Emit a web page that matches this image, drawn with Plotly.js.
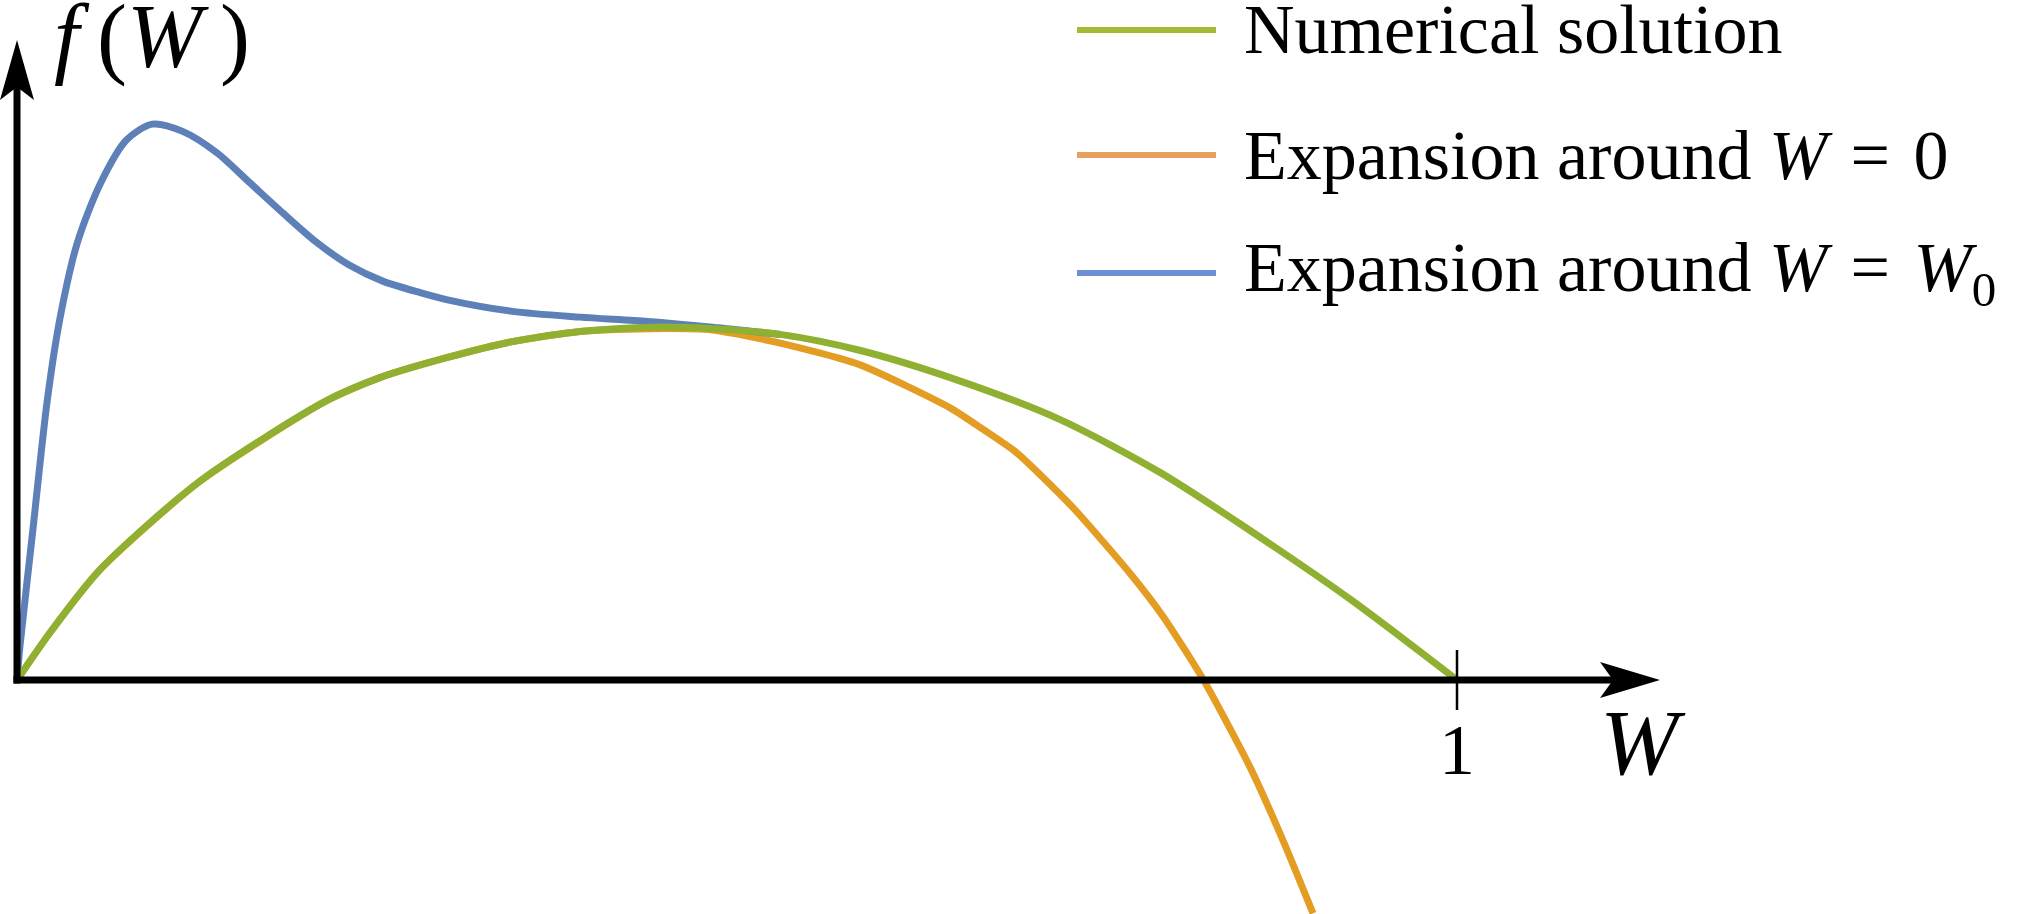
<!DOCTYPE html>
<html>
<head>
<meta charset="utf-8">
<script src="https://cdn.plot.ly/plotly-3.0.1.min.js"></script>
<style>
  html, body { margin: 0; padding: 0; background: #fff; }
  #chart { width: 2028px; height: 914px; }
</style>
</head>
<body>
<div id="chart"></div>
<script>
// values (W along x, f(W) in arbitrary units)
var wNumerical = [0, 0.023, 0.058, 0.127, 0.215, 0.252, 0.299, 0.344, 0.391, 0.442, 0.483, 0.530, 0.585, 0.648, 0.724, 0.794, 0.856, 0.926, 1];
var fNumerical = [0, 0.033, 0.077, 0.138, 0.194, 0.210, 0.224, 0.235, 0.242, 0.245, 0.244, 0.240, 0.229, 0.210, 0.181, 0.144, 0.104, 0.056, 0];

var wAroundZero = [0, 0.023, 0.058, 0.127, 0.215, 0.252, 0.299, 0.344, 0.391, 0.442, 0.483, 0.530, 0.585, 0.648, 0.671, 0.694, 0.733, 0.773, 0.796, 0.824, 0.856, 0.879, 0.900];
var fAroundZero = [0, 0.033, 0.077, 0.138, 0.194, 0.210, 0.224, 0.235, 0.242, 0.244, 0.243, 0.234, 0.219, 0.189, 0.174, 0.158, 0.120, 0.074, 0.044, 0, -0.060, -0.111, -0.162];

var wAroundW0 = [0, 0.002, 0.011, 0.021, 0.030, 0.042, 0.058, 0.076, 0.094, 0.115, 0.139, 0.162, 0.185, 0.208, 0.231, 0.254, 0.280, 0.299, 0.344, 0.391, 0.438, 0.483, 0.530];
var fAroundW0 = [0, 0.023, 0.104, 0.194, 0.252, 0.304, 0.345, 0.375, 0.386, 0.381, 0.366, 0.345, 0.324, 0.304, 0.288, 0.277, 0.269, 0.264, 0.256, 0.252, 0.249, 0.245, 0.240];

var eq = '\u2004=\u2004';
var seriesNames = ['Numerical solution', 'Expansion around <i>W</i>' + eq + '0', 'Expansion around <i>W</i>' + eq + '<i>W</i><sub>0</sub>'];
var seriesColors = ['#8FB031', '#E39D23', '#5C80B7'];
var legendColors = ['#A2BC36', '#E8A05F', '#6E8FD4'];

var tickVals = [1];
var tickText = ['1'];

var serif = 'Liberation Serif, Times New Roman, serif';
var px = 1 / 1440; // one pixel in data units (both axes share the scale)

var green = {
  x: wNumerical, y: fNumerical, mode: 'lines', name: seriesNames[0],
  line: { color: seriesColors[0], width: 7, shape: 'spline', smoothing: 0.8 }, hoverinfo: 'skip'
};
var orange = {
  x: wAroundZero, y: fAroundZero, mode: 'lines', name: seriesNames[1],
  line: { color: seriesColors[1], width: 7, shape: 'spline', smoothing: 0.6 }, hoverinfo: 'skip'
};
var blue = {
  x: wAroundW0, y: fAroundW0, mode: 'lines', name: seriesNames[2],
  line: { color: seriesColors[2], width: 7, shape: 'spline', smoothing: 0.8 }, hoverinfo: 'skip'
};

var xTip = 1643 * px;   // arrow tip of the W axis
var yTip = 640 * px;    // arrow tip of the f axis

var shapes = [
  // axes with arrow heads
  { type: 'line', xref: 'x', yref: 'y', x0: -3.5 * px, y0: 0, x1: xTip - 46 * px, y1: 0,
    line: { color: '#000', width: 7 } },
  { type: 'line', xref: 'x', yref: 'y', x0: 0, y0: -3.5 * px, x1: 0, y1: yTip - 46 * px,
    line: { color: '#000', width: 7 } },
  { type: 'path', xref: 'x', yref: 'y', xsizemode: 'pixel', ysizemode: 'pixel',
    xanchor: xTip, yanchor: 0, path: 'M0,0 L-60,18 L-47,0 L-60,-18 Z',
    fillcolor: '#000', line: { width: 0 } },
  { type: 'path', xref: 'x', yref: 'y', xsizemode: 'pixel', ysizemode: 'pixel',
    xanchor: 0, yanchor: yTip, path: 'M0,0 L-17,-60 L0,-47 L17,-60 Z',
    fillcolor: '#000', line: { width: 0 } }
];

var annotations = [
  { xref: 'paper', yref: 'paper', x: 152 / 2028, y: 1 - 37 / 914, xanchor: 'center', yanchor: 'middle',
    text: '<i>f</i>\u2009(<i>W</i>\u2009)', showarrow: false, font: { family: serif, size: 90, color: '#000' } },
  { xref: 'x', yref: 'y', x: 1626 * px, y: -62 * px, xanchor: 'center', yanchor: 'middle',
    text: '<i>W</i>', showarrow: false, font: { family: serif, size: 94, color: '#000' } }
];

tickVals.forEach(function (v, i) {
  shapes.push({ type: 'line', xref: 'x', yref: 'y', x0: v, x1: v, y0: -30 * px, y1: 30 * px,
    line: { color: '#000', width: 2.5 } });
  annotations.push({ xref: 'x', yref: 'y', x: v, y: -70 * px, text: tickText[i], showarrow: false,
    xanchor: 'center', yanchor: 'middle', font: { family: serif, size: 72, color: '#000' } });
});

// legend drawn by hand so that it can sit right at the top edge
var legendRows = [30, 155, 273];
seriesNames.forEach(function (name, i) {
  var yp = 1 - legendRows[i] / 914;
  shapes.push({ type: 'line', xref: 'paper', yref: 'paper', x0: 1077 / 2028, x1: 1216 / 2028, y0: yp, y1: yp,
    line: { color: legendColors[i], width: 6 } });
  annotations.push({ xref: 'paper', yref: 'paper', x: 1242 / 2028, y: yp, xanchor: 'left', yanchor: 'middle',
    text: name, showarrow: false, font: { family: serif, size: 70, color: '#000' } });
});

var layout = {
  width: 2028, height: 914,
  margin: { l: 0, r: 0, t: 0, b: 0, pad: 0 },
  paper_bgcolor: '#fff', plot_bgcolor: '#fff',
  xaxis: { range: [-17 * px, 2011 * px], visible: false, fixedrange: true },
  yaxis: { range: [-234 * px, 680 * px], visible: false, fixedrange: true },
  showlegend: false,
  shapes: shapes,
  annotations: annotations
};

Plotly.newPlot('chart', [orange, blue, green], layout, { displayModeBar: false, staticPlot: true });
</script>
</body>
</html>
